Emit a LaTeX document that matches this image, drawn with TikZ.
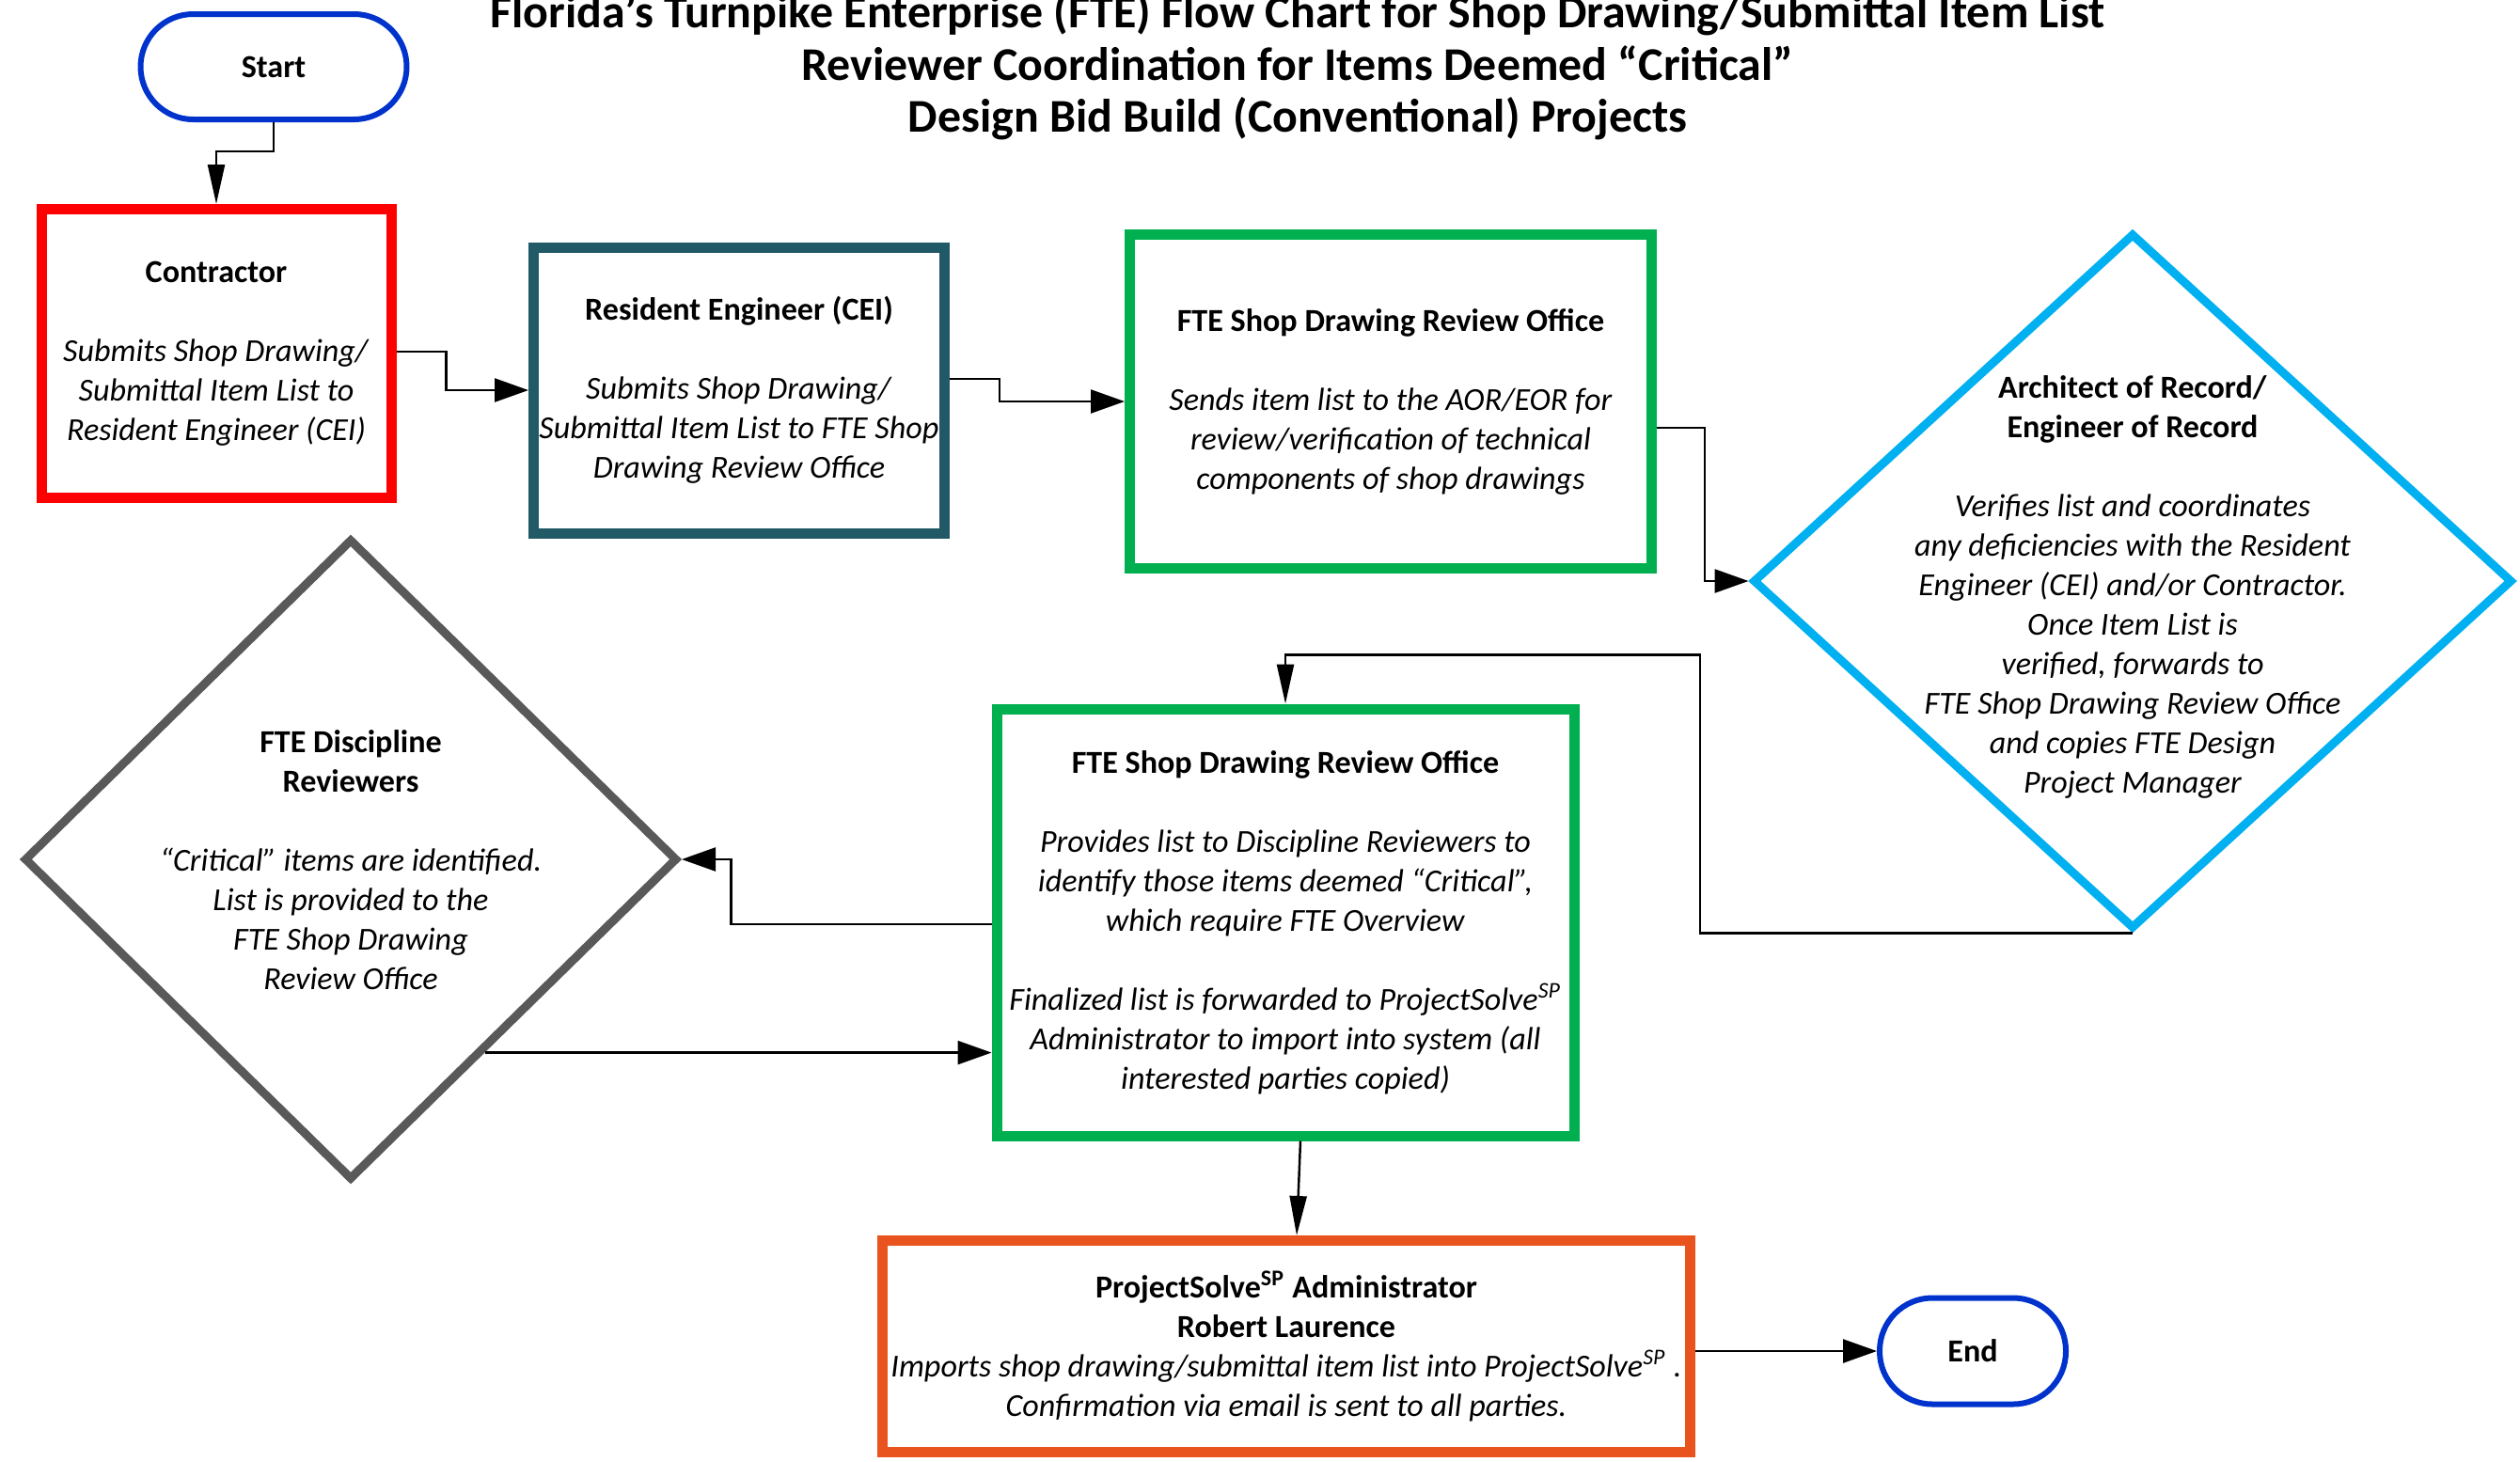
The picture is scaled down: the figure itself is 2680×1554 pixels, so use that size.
\documentclass[tikz,border=0pt]{standalone}
\usepackage{fontspec}
\setmainfont{Carlito}
\usetikzlibrary{shapes.geometric,arrows.meta,calc}
\definecolor{cblue}{RGB}{0,51,204}
\definecolor{cred}{RGB}{255,0,0}
\definecolor{cteal}{RGB}{33,89,103}
\definecolor{cgreen}{RGB}{0,176,80}
\definecolor{ccyan}{RGB}{0,176,240}
\definecolor{cgrey}{RGB}{89,89,89}
\definecolor{corange}{RGB}{233,84,30}
\newcommand\fcbody{\fontsize{9.7}{11.95}\selectfont}
\newcommand\fctitle{\fontsize{14.2}{15.8}\selectfont}
\begin{document}
\begin{tikzpicture}[x=0.1mm,y=-0.1mm,
  every node/.style={inner sep=0pt},
  term/.style={draw=cblue, line width=0.6mm, rounded corners=5.6mm, fill=white, font=\fcbody\bfseries},
  box/.style={draw, line width=1.1mm, fill=white, align=center, font=\fcbody},
  dia/.style={diamond, draw, line width=0.9mm, fill=white},
  txt/.style={align=center, font=\fcbody},
  conn/.style={draw, line width=0.7pt},
  arrh/.style={conn, -{Triangle[length=3.6mm,width=2.5mm]}},
  arrv/.style={conn, -{Triangle[length=4.2mm,width=1.8mm]}}
]
\useasboundingbox (0,0) rectangle (2680,1554);

% title
\node[align=center, font=\fctitle\bfseries] (title) at (1380,71)
  {Florida’s Turnpike Enterprise (FTE) Flow Chart for Shop Drawing/Submittal Item List\\
   Reviewer Coordination for Items Deemed “Critical”\\
   Design Bid Build (Conventional) Projects};

% terminals
\node[term, minimum width=28.3mm, minimum height=11.2mm] (start) at (291,71) {Start};
\node[term, minimum width=19.8mm, minimum height=11.3mm] (end) at (2098,1437) {End};

% boxes
\node[box, draw=cred, minimum width=37.2mm, minimum height=30.7mm] (con) at (230,376)
  {\textbf{Contractor}\\[11.95pt]
   \textit{Submits Shop Drawing/}\\
   \textit{Submittal Item List to}\\
   \textit{Resident Engineer (CEI)}};

\node[box, draw=cteal, minimum width=43.7mm, minimum height=30.4mm] (re) at (786,415)
  {\textbf{Resident Engineer (CEI)}\\[11.95pt]
   \textit{Submits Shop Drawing/}\\
   \textit{Submittal Item List to FTE Shop}\\
   \textit{Drawing Review Office}};

\node[box, draw=cgreen, minimum width=55.5mm, minimum height=35.5mm] (sd1) at (1479,427)
  {\textbf{FTE Shop Drawing Review Office}\\[11.95pt]
   \textit{Sends item list to the AOR/EOR for}\\
   \textit{review/verification of technical}\\
   \textit{components of shop drawings}};

\node[box, draw=cgreen, minimum width=61.4mm, minimum height=45.4mm] (sd2) at (1367,981)
  {\textbf{FTE Shop Drawing Review Office}\\[11.95pt]
   \textit{Provides list to Discipline Reviewers to}\\
   \textit{identify those items deemed “Critical”,}\\
   \textit{which require FTE Overview}\\[11.95pt]
   \textit{Finalized list is forwarded to ProjectSolve\textsuperscript{SP}}\\
   \textit{Administrator to import into system (all}\\
   \textit{interested parties copied)}};

\node[box, draw=corange, minimum width=85.9mm, minimum height=22.5mm] (ps) at (1368,1432)
  {\textbf{ProjectSolve\textsuperscript{SP} Administrator}\\
   \textbf{Robert Laurence}\\
   \textit{Imports shop drawing/submittal item list into ProjectSolve\textsuperscript{SP} .}\\
   \textit{Confirmation via email is sent to all parties.}};

% diamonds
\node[dia, draw=ccyan, minimum width=80.8mm, minimum height=74mm] (aor) at (2268,618) {};
\node[txt] (aor-t) at (2268,624)
  {\textbf{Architect of Record/}\\
   \textbf{Engineer of Record}\\[11.95pt]
   \textit{Verifies list and coordinates}\\
   \textit{any deficiencies with the Resident}\\
   \textit{Engineer (CEI) and/or Contractor.}\\
   \textit{Once Item List is}\\
   \textit{verified, forwards to}\\
   \textit{FTE Shop Drawing Review Office}\\
   \textit{and copies FTE Design}\\
   \textit{Project Manager}};

\node[dia, draw=cgrey, minimum width=69.5mm, minimum height=68.2mm] (dd) at (373,914) {};
\node[txt] (dd-t) at (373,915)
  {\textbf{FTE Discipline}\\
   \textbf{Reviewers}\\[11.95pt]
   \textit{“Critical” items are identified.}\\
   \textit{List is provided to the}\\
   \textit{FTE Shop Drawing}\\
   \textit{Review Office}};

% connectors
\draw[arrv] (start.south) -- ++(0,31) -| (con.north);
\draw[arrh] ([yshift=0.2mm]con.east) -- ++(53,0) |- (re.west);
\draw[arrh] ([yshift=1.2mm]re.east) -- ++(53,0) |- (sd1.west);
\draw[arrh] ([yshift=-2.8mm]sd1.east) -- ++(51,0) |- (aor.west);
\draw[arrv] (aor.south) -- ++(-460,0) -- ++(0,-296) -| (sd2.north);
\draw[arrh] ([yshift=-0.2mm]sd2.west) -- ++(-277,0) |- (dd.east);
\coordinate (ddout) at ($(dd.east)!0.595!(dd.south)$);
\draw[arrh] (ddout) -- (ddout -| sd2.west);
\draw[arrv] ([xshift=1.6mm]sd2.south) -- ([xshift=1.1mm]ps.north);
\draw[arrh] (end.west -| ps.east) -- (end.west);
\end{tikzpicture}
\end{document}
